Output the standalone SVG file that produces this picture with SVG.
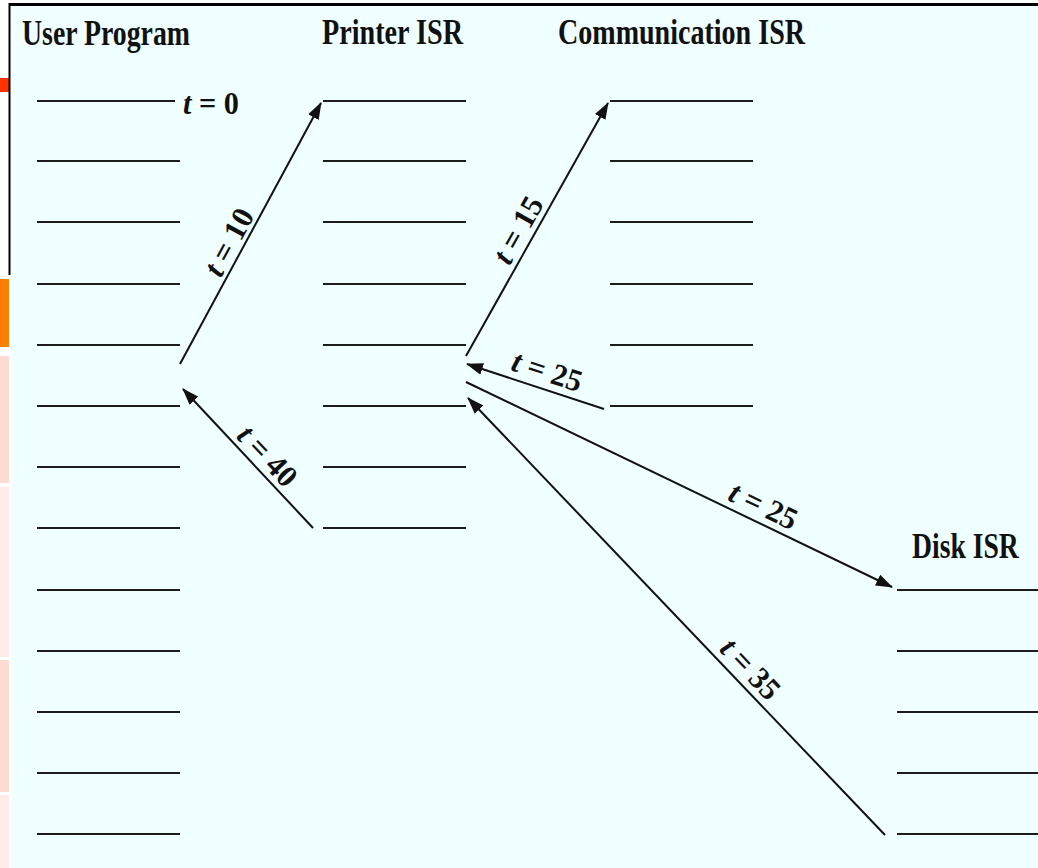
<svg xmlns="http://www.w3.org/2000/svg" width="1038" height="868" viewBox="0 0 1038 868">
  <defs>
    <marker id="head" viewBox="0 0 17 12" markerWidth="17" markerHeight="12" refX="16" refY="6" orient="auto" markerUnits="userSpaceOnUse">
      <path d="M0,0 L17,6 L0,12 z" fill="#111"/>
    </marker>
    <style>
      .step { stroke: #1c1c1c; stroke-width: 2; fill: none; }
      .flow { stroke: #111; stroke-width: 2; fill: none; marker-end: url(#head); }
      .title { font-family: "Liberation Serif", "Times New Roman", serif; font-weight: bold; font-size: 35px; fill: #111; }
      .tlabel { font-family: "Liberation Serif", "Times New Roman", serif; font-weight: bold; font-size: 31px; fill: #111; text-anchor: middle; }
      .tlabel .v { font-style: italic; }
    </style>
  </defs>

  <!-- page margin and side strip -->
  <rect x="0" y="0" width="1038" height="868" fill="#ffffff"/>
  <rect x="11" y="6" width="1027" height="862" fill="#f0ffff"/>
  <rect x="0" y="78" width="9" height="14" fill="#ff3300"/>
  <rect x="0" y="279" width="9" height="68" fill="#ff7f00"/>
  <rect x="0" y="356" width="9" height="127" fill="#ffdcd3"/>
  <rect x="0" y="487" width="9" height="170" fill="#ffece8"/>
  <rect x="0" y="660" width="9" height="132" fill="#ffdcd3"/>
  <rect x="0" y="795" width="9" height="73" fill="#ffece8"/>
  <rect x="9" y="3" width="1029" height="3" fill="#000"/>
  <rect x="8.5" y="3" width="2" height="272" fill="#000"/>

  <!-- User Program -->
  <g id="user-program">
    <text class="title" x="22" y="45" textLength="168" lengthAdjust="spacingAndGlyphs">User Program</text>
    <path class="step" d="M37,101H175 M37,161H180 M37,222H180 M37,284H180 M37,345H180 M37,406H180 M37,467H180 M37,528H180 M37,590H180 M37,651H180 M37,712H180 M37,773H180 M37,834H180"/>
    <text class="tlabel" x="211" y="114" textLength="56" lengthAdjust="spacingAndGlyphs"><tspan class="v">t</tspan> = 0</text>
  </g>

  <!-- Printer ISR -->
  <g id="printer-isr">
    <text class="title" x="322" y="44" textLength="141" lengthAdjust="spacingAndGlyphs">Printer ISR</text>
    <path class="step" d="M323,101H466 M323,161H466 M323,222H466 M323,284H466 M323,345H466 M323,406H466 M323,467H466 M323,528H466"/>
  </g>

  <!-- Communication ISR -->
  <g id="communication-isr">
    <text class="title" x="558" y="44" textLength="247" lengthAdjust="spacingAndGlyphs">Communication ISR</text>
    <path class="step" d="M610,101H753 M610,161H753 M610,222H753 M610,284H753 M610,345H753 M610,406H753"/>
  </g>

  <!-- Disk ISR -->
  <g id="disk-isr">
    <text class="title" transform="translate(912,558) scale(0.79,1)" x="0" y="0">Disk ISR</text>
    <path class="step" d="M897,590H1038 M897,651H1038 M897,712H1038 M897,773H1038 M897,834H1038"/>
  </g>

  <!-- interrupt transfers -->
  <g id="connectors">
    <line class="flow" x1="180" y1="364" x2="321" y2="103"/>
    <line class="flow" x1="313" y1="528" x2="183" y2="389"/>
    <line class="flow" x1="466" y1="356" x2="608" y2="103"/>
    <line class="flow" x1="604" y1="409" x2="467" y2="364"/>
    <line class="flow" x1="466" y1="382" x2="892" y2="587"/>
    <line class="flow" x1="885" y1="835" x2="468" y2="398"/>

    <text class="tlabel" transform="translate(238,247) rotate(-61.5)" textLength="72" lengthAdjust="spacingAndGlyphs"><tspan class="v">t</tspan> = 10</text>
    <text class="tlabel" transform="translate(260,463) rotate(46.5)" textLength="72" lengthAdjust="spacingAndGlyphs"><tspan class="v">t</tspan> = 40</text>
    <text class="tlabel" transform="translate(527,235) rotate(-60.7)" textLength="72" lengthAdjust="spacingAndGlyphs"><tspan class="v">t</tspan> = 15</text>
    <text class="tlabel" transform="translate(544,381) rotate(18.1)" textLength="72" lengthAdjust="spacingAndGlyphs"><tspan class="v">t</tspan> = 25</text>
    <text class="tlabel" transform="translate(759,515) rotate(25.7)" textLength="72" lengthAdjust="spacingAndGlyphs"><tspan class="v">t</tspan> = 25</text>
    <text class="tlabel" transform="translate(743,676) rotate(46.35)" textLength="72" lengthAdjust="spacingAndGlyphs"><tspan class="v">t</tspan> = 35</text>
  </g>
</svg>
